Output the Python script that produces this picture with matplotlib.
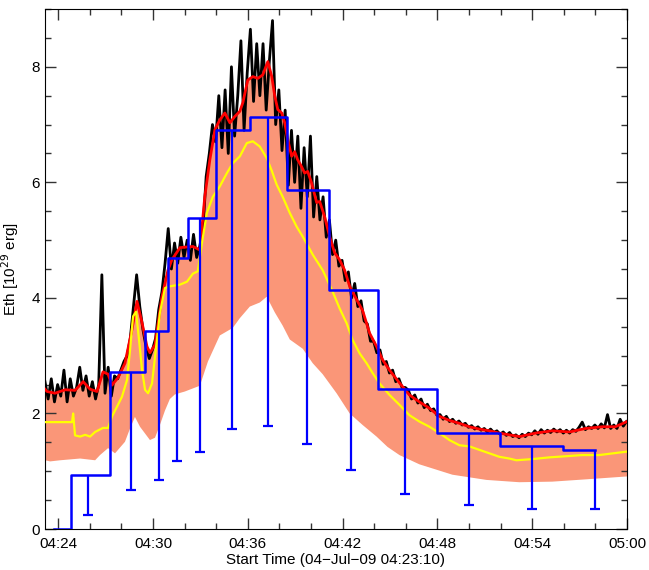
import numpy as np
import matplotlib
matplotlib.use("Agg")
import matplotlib.pyplot as plt
from matplotlib.ticker import FuncFormatter, MultipleLocator

plt.rcParams['font.family'] = ['Liberation Sans', 'DejaVu Sans']

# time axis in minutes after 04:00
t0 = 23.0 + 10.0 / 60.0
t1 = 60.0

# smoothed curve (red)
red_t = [23.17, 23.3, 23.8, 24.44, 25.07, 25.58, 26.02, 26.46, 26.84, 27.16,
         27.41, 27.79, 28.23, 28.67, 28.99, 29.31, 29.62, 29.81, 30.13, 30.57,
         30.95, 31.2, 31.71, 32.53, 32.97, 33.28, 33.6, 33.92, 34.23, 34.55,
         34.87, 35.18, 35.5, 35.69, 36.0, 36.32, 36.64, 36.95, 37.27, 37.52,
         37.71, 37.9, 38.15, 38.34, 38.53, 38.78, 38.97, 39.16, 39.41, 39.6,
         39.79, 40.04, 40.36, 40.55, 40.86, 41.18, 41.5, 41.81, 42.13, 42.45,
         42.89, 43.27, 43.71, 44.15, 44.53, 44.97, 45.6, 46.23, 46.86, 47.5,
         48.13, 48.76, 49.39, 50.02, 50.65, 51.29, 51.92, 52.55, 53.2, 54.21,
         55.28, 56.36, 57.37, 58.44, 59.26, 60.0]
red_v = [2.42, 2.38, 2.35, 2.41, 2.40, 2.55, 2.42, 2.38, 2.72, 2.68,
         2.49, 2.62, 2.87, 3.45, 3.94, 3.57, 3.16, 3.05, 3.19, 4.02,
         4.48, 4.66, 4.87, 4.89, 4.83, 5.75, 6.39, 6.91, 7.08, 7.20,
         7.03, 7.14, 7.23, 7.38, 7.77, 7.83, 7.80, 7.86, 8.09, 7.83,
         7.49, 7.26, 7.20, 7.03, 6.74, 6.45, 6.53, 6.39, 6.27, 6.16,
         6.19, 5.99, 5.65, 5.67, 5.41, 5.06, 4.78, 4.66, 4.48, 4.20,
         3.97, 3.78, 3.39, 3.16, 2.93, 2.75, 2.53, 2.32, 2.20, 2.09,
         1.95, 1.88, 1.83, 1.77, 1.73, 1.70, 1.66, 1.63, 1.60, 1.66,
         1.70, 1.68, 1.74, 1.77, 1.77, 1.86]

# yellow curve
yel_t = [23.17, 24.88, 24.95, 25.07, 25.39, 25.71, 26.02, 26.34, 26.84, 27.16,
         27.41, 27.73, 28.04, 28.36, 28.55, 28.74, 28.93, 29.12, 29.31, 29.5,
         29.69, 29.94, 30.13, 30.44, 30.76, 31.07, 31.71, 32.15, 32.53, 32.84,
         33.1, 33.41, 33.79, 34.23, 34.68, 35.05, 35.5, 35.94, 36.32, 36.76,
         37.2, 37.52, 37.83, 38.21, 38.66, 39.1, 39.48, 40.11, 40.74, 41.37,
         41.81, 42.26, 42.64, 43.08, 43.52, 43.9, 44.34, 44.97, 45.6, 46.23,
         46.86, 47.5, 48.13, 48.76, 49.39, 50.03, 50.66, 51.29, 51.92, 52.55,
         53.0, 54.0, 55.08, 56.15, 57.16, 58.24, 60.0]
yel_v = [1.85, 1.85, 2.00, 1.62, 1.60, 1.63, 1.60, 1.68, 1.75, 1.75,
         1.95, 2.12, 2.29, 2.58, 3.10, 3.68, 3.76, 3.27, 2.75, 2.41,
         2.35, 2.52, 2.98, 3.74, 4.17, 4.20, 4.23, 4.28, 4.42, 4.46,
         4.95, 5.47, 5.75, 5.93, 6.16, 6.33, 6.45, 6.68, 6.71, 6.62,
         6.42, 6.20, 5.96, 5.75, 5.47, 5.23, 5.06, 4.75, 4.48, 4.11,
         3.82, 3.56, 3.27, 3.04, 2.87, 2.70, 2.52, 2.32, 2.15, 1.97,
         1.86, 1.77, 1.66, 1.54, 1.45, 1.43, 1.37, 1.31, 1.25, 1.22,
         1.19, 1.21, 1.24, 1.26, 1.28, 1.28, 1.34]

# lower edge of the shaded band
low_t = [23.17, 23.49, 24.13, 25.39, 26.34, 26.65, 27.16, 27.6, 28.23, 28.55,
         28.86, 29.18, 29.81, 30.13, 30.44, 30.76, 31.07, 31.39, 32.02, 32.97,
         33.48, 34.23, 35.05, 35.5, 36.13, 36.76, 37.2, 37.71, 38.21, 38.66,
         39.48, 40.11, 40.74, 41.62, 42.45, 43.27, 44.15, 44.85, 45.6, 46.86,
         48.95, 51.1, 53.18, 55.27, 57.42, 60.0]
low_v = [1.19, 1.17, 1.19, 1.22, 1.19, 1.28, 1.40, 1.31, 1.51, 1.74,
         1.94, 1.77, 1.54, 1.58, 1.80, 2.05, 2.25, 2.33, 2.38, 2.48,
         2.90, 3.35, 3.48, 3.65, 3.85, 3.92, 4.02, 3.75, 3.52, 3.28,
         3.12, 2.87, 2.68, 2.35, 2.00, 1.80, 1.60, 1.42, 1.28, 1.12,
         0.94, 0.85, 0.81, 0.82, 0.86, 0.91]

# raw curve (black), 12 s cadence from 04:23:10
blk_v = [2.55, 2.25, 2.60, 2.20, 2.50,
         2.30, 2.75, 2.20, 2.60, 2.30,
         2.45, 2.80, 2.40, 2.65, 2.30,
         2.55, 2.25, 2.50, 4.40, 2.35,
         2.80, 2.30, 2.65, 2.60, 2.75,
         2.90, 3.00, 3.30, 3.85, 4.40,
         3.85, 3.45, 3.15, 2.95, 3.10,
         3.30, 3.80, 4.10, 4.60, 5.20,
         4.50, 4.95, 4.60, 5.05, 4.70,
         5.00, 4.65, 5.10, 4.70, 4.90,
         5.20, 6.10, 6.50, 7.00, 6.70,
         7.50, 6.60, 7.60, 6.50, 8.00,
         6.80, 7.50, 8.45, 6.90, 7.90,
         8.65, 7.40, 8.40, 7.50, 8.40,
         7.25, 8.10, 8.80, 7.00, 7.60,
         6.55, 7.25, 5.95, 6.90, 6.00,
         6.80, 5.55, 6.60, 5.75, 6.80,
         5.40, 6.10, 5.35, 5.75, 5.05,
         5.35, 4.75, 5.00, 4.55, 4.65,
         4.30, 4.45, 4.00, 4.25, 3.85,
         3.95, 3.60, 3.55, 3.25, 3.25,
         3.05, 3.10, 2.85, 2.90, 2.70,
         2.75, 2.55, 2.60, 2.45, 2.45,
         2.40, 2.25, 2.32, 2.18, 2.25,
         2.10, 2.16, 2.05, 2.08, 1.97,
         1.98, 1.90, 1.95, 1.86, 1.90,
         1.83, 1.87, 1.80, 1.83, 1.76,
         1.79, 1.73, 1.77, 1.71, 1.74,
         1.68, 1.73, 1.67, 1.70, 1.64,
         1.68, 1.62, 1.67, 1.60, 1.63,
         1.58, 1.64, 1.60, 1.66, 1.63,
         1.70, 1.64, 1.72, 1.66, 1.71,
         1.67, 1.73, 1.68, 1.72, 1.66,
         1.71, 1.66, 1.72, 1.69, 1.76,
         1.85, 1.72, 1.77, 1.74, 1.80,
         1.74, 1.82, 1.75, 1.98, 1.74,
         1.80, 1.74, 1.90, 1.78, 1.86]
blk_t = t0 + 0.2 * np.arange(len(blk_v))

# binned values (blue) with lower error
bin_t = [23.73, 25.91, 28.61, 30.38, 31.50, 32.97, 35.00, 37.25, 39.75,
         42.51, 45.98, 50.00, 53.96, 57.99]
bin_v = [0.0, 0.94, 2.71, 3.42, 4.69, 5.38, 6.90, 7.13, 5.86,
         4.13, 2.43, 1.67, 1.44, 1.37]
bin_lo = [0.0, 0.24, 0.68, 0.85, 1.17, 1.34, 1.73, 1.78, 1.47,
          1.03, 0.61, 0.41, 0.35, 0.34]

fig = plt.figure(figsize=(6.49, 5.70), dpi=100)
ax = fig.add_axes([0.0693, 0.0719, 0.8968, 0.9123])

band_x = list(red_t) + list(low_t[::-1])
band_y = list(red_v) + list(low_v[::-1])
ax.fill(band_x, band_y, color='#fa9678', lw=0, zorder=1)

ax.plot(blk_t, blk_v, color='black', lw=2.0, zorder=2)
ax.plot(red_t, red_v, color='red', lw=2.0, zorder=3)
ax.plot(yel_t, yel_v, color='yellow', lw=1.6, zorder=3)

ax.step(bin_t, bin_v, where='mid', color='blue', lw=1.8, zorder=4)
ax.vlines(bin_t[1:], bin_lo[1:], bin_v[1:], color='blue', lw=1.6, zorder=4)
ax.plot(bin_t[1:], bin_lo[1:], ls='none', marker='_', ms=7, mew=1.6,
        color='blue', zorder=4)

ax.set_xlim(t0, t1)
ax.set_ylim(0, 9)

ax.xaxis.set_major_locator(MultipleLocator(6))
ax.xaxis.set_minor_locator(MultipleLocator(2))
ax.yaxis.set_major_locator(MultipleLocator(2))
ax.yaxis.set_minor_locator(MultipleLocator(0.5))


def fmt_time(m, pos):
    m = int(round(m))
    return '%02d:%02d' % (4 + m // 60, m % 60)


ax.xaxis.set_major_formatter(FuncFormatter(fmt_time))
ax.tick_params(which='both', direction='in', top=True, right=True,
               labelsize=11, color='#333333')
ax.tick_params(which='major', length=8, width=1)
ax.tick_params(which='minor', length=4, width=1)
ax.tick_params(axis='x', pad=6)

ax.set_xlabel('Start Time (04\u2212Jul\u221209 04:23:10)', fontsize=11, labelpad=1)
ax.set_ylabel('Eth [10$^{29}$ erg]', fontsize=11, labelpad=8)

fig.savefig('out.png', dpi=100)
